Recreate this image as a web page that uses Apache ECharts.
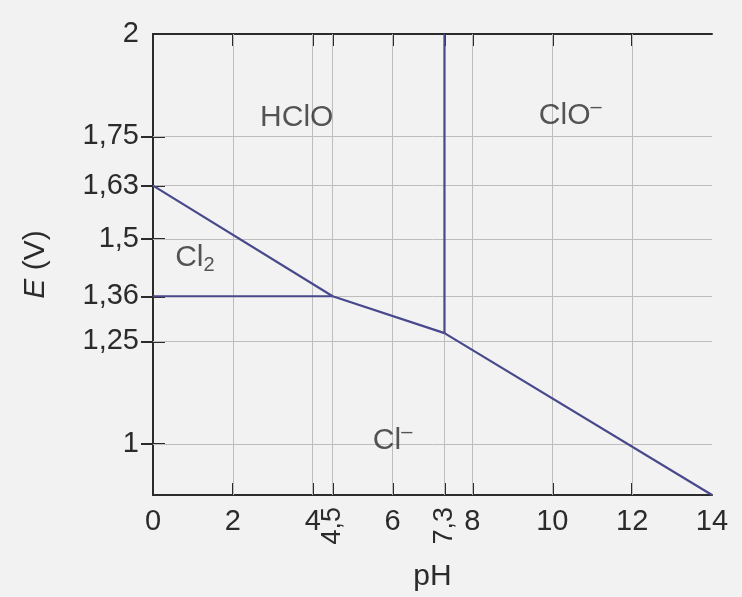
<!DOCTYPE html>
<html>
<head>
<meta charset="utf-8">
<script src="https://cdn.jsdelivr.net/npm/echarts@6/dist/echarts.min.js"></script>
<style>
  html, body { margin: 0; padding: 0; background: #f2f2f2; }
  #chart { width: 742px; height: 597px; }
</style>
</head>
<body>
<div id="chart"></div>
<script>
// ---- data ----
const xLabelValues = [0, 2, 4, 6, 8, 10, 12, 14];
const xSpecialValues = [4.5, 7.3];
const xGridValues = [2, 4, 4.5, 6, 7.3, 8, 10, 12];
const yLabelValues = [1, 1.25, 1.36, 1.5, 1.63, 1.75, 2];
const yGridValues = [1, 1.25, 1.36, 1.5, 1.63, 1.75];
const xRange = [0, 14];
const yRange = [0.875, 2];

// boundaries between species (pH, E)
const cl2Hclo = [[0, 1.63], [4.5, 1.36]];
const cl2Cl = [[0, 1.36], [4.5, 1.36]];
const hcloCl = [[4.5, 1.36], [7.3, 1.27]];
const hcloClo = [[7.3, 1.27], [7.3, 2]];
const cloCl = [[7.3, 1.27], [14, 0.875]];

// region labels (pH, E)
const regionNames = ['HClO', 'ClO−', 'Cl2', 'Cl−'];
const regionPoints = [[3.6, 1.795], [10.45, 1.80], [1.05, 1.455], [6.0, 1.007]];

// ---- chart ----
const FONT = 'Liberation Sans';
const TXT = '#2b2b2b';
const comma = v => String(v).replace('.', ',');

const chart = echarts.init(document.getElementById('chart'));

const boundaryStyle = { color: '#48488c', width: 2.2 };
function boundary(data) {
  return {
    type: 'line', data: data, xAxisIndex: 0, yAxisIndex: 0,
    showSymbol: false, symbol: 'none', silent: true, z: 5,
    lineStyle: boundaryStyle, animation: false
  };
}

const richMain = { fontSize: 30, fontFamily: FONT, color: TXT, lineHeight: 36 };
const regionFormatter = {
  'HClO': '{a|HClO}',
  'ClO−': '{a|ClO}{sup|–}',
  'Cl2': '{a|Cl}{sub|2}',
  'Cl−': '{a|Cl}{sup|–}'
};

chart.setOption({
  backgroundColor: '#f2f2f2',
  animation: false,
  grid: { left: 153, top: 34, right: 30, bottom: 99 },
  xAxis: [
    {
      type: 'value', min: xRange[0], max: xRange[1], position: 'bottom',
      name: 'pH', nameLocation: 'middle', nameGap: 67,
      nameTextStyle: { fontSize: 30, fontFamily: FONT, color: TXT },
      axisLine: { show: true, lineStyle: { color: '#2b2b2b', width: 2 } },
      axisTick: { show: true, inside: true, length: 12, customValues: xGridValues,
                  lineStyle: { color: '#2b2b2b', width: 2 } },
      axisLabel: { show: true, customValues: xLabelValues, margin: 12,
                   fontSize: 29, fontFamily: FONT, color: TXT, formatter: comma },
      splitLine: { show: false }
    },
    {
      type: 'value', min: xRange[0], max: xRange[1], position: 'top',
      axisLine: { show: true, lineStyle: { color: '#2b2b2b', width: 2 } },
      axisTick: { show: true, inside: true, length: 12, customValues: xGridValues,
                  lineStyle: { color: '#2b2b2b', width: 2 } },
      axisLabel: { show: false },
      splitLine: { show: false }
    },
    {
      type: 'value', min: xRange[0], max: xRange[1], position: 'bottom',
      axisLine: { show: false },
      axisTick: { show: false },
      axisLabel: { show: true, customValues: xSpecialValues, rotate: 90, margin: 12,
                   fontSize: 27, fontFamily: FONT, color: TXT, formatter: comma },
      splitLine: { show: false }
    }
  ],
  yAxis: [
    {
      type: 'value', min: yRange[0], max: yRange[1], position: 'left',
      name: '{i|E} (V)', nameLocation: 'middle', nameGap: 102, nameRotate: 90,
      nameTextStyle: { fontSize: 30, fontFamily: FONT, color: TXT,
                       rich: { i: { fontSize: 30, fontFamily: FONT, color: TXT, fontStyle: 'italic' } } },
      axisLine: { show: true, lineStyle: { color: '#2b2b2b', width: 2 } },
      axisTick: { show: true, inside: true, length: 12, customValues: yGridValues,
                  lineStyle: { color: '#2b2b2b', width: 2 } },
      axisLabel: { show: true, customValues: yLabelValues, margin: 14,
                   fontSize: 29, fontFamily: FONT, color: TXT, formatter: comma },
      splitLine: { show: false }
    },
    {
      type: 'value', min: yRange[0], max: yRange[1], position: 'right',
      axisLine: { show: true, lineStyle: { color: '#2b2b2b', width: 2 } },
      axisTick: { show: true, inside: true, length: 12, customValues: yGridValues,
                  lineStyle: { color: '#2b2b2b', width: 2 } },
      axisLabel: { show: false },
      splitLine: { show: false }
    }
  ],
  series: [
    {
      type: 'line', data: [], xAxisIndex: 0, yAxisIndex: 0, z: 1, silent: true,
      markLine: {
        silent: true, symbol: ['none', 'none'], animation: false,
        label: { show: false },
        lineStyle: { color: '#bdbdbd', width: 1, type: 'solid' },
        data: xGridValues.map(v => ({ xAxis: v })).concat(yGridValues.map(v => ({ yAxis: v })))
      }
    },
    boundary(cl2Hclo),
    boundary(cl2Cl),
    boundary(hcloCl),
    boundary(hcloClo),
    boundary(cloCl),
    {
      type: 'scatter', xAxisIndex: 0, yAxisIndex: 0, symbolSize: 0, silent: true, z: 6,
      data: regionPoints.map((p, i) => ({ name: regionNames[i], value: p })),
      label: {
        show: true, position: 'inside',
        formatter: p => regionFormatter[p.name],
        rich: {
          a: richMain,
          sub: { fontSize: 20, fontFamily: FONT, color: TXT, lineHeight: 18, verticalAlign: 'bottom' },
          sup: { fontSize: 20, fontFamily: FONT, color: TXT, lineHeight: 24, verticalAlign: 'top' }
        }
      }
    }
  ]
});
</script>
</body>
</html>
